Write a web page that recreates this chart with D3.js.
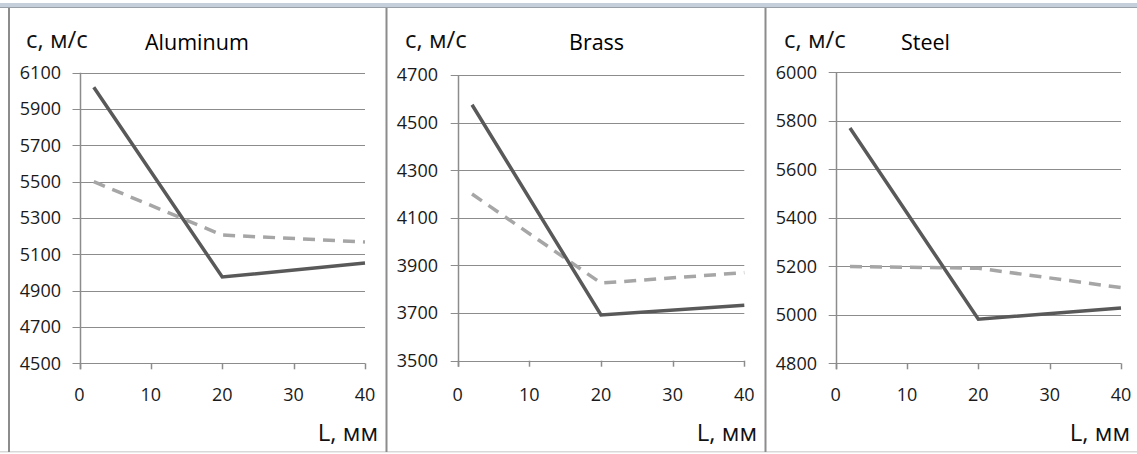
<!DOCTYPE html>
<html>
<head>
<meta charset="utf-8">
<script src="https://cdn.jsdelivr.net/npm/d3@7"></script>
<style>
  body { margin: 0; background: #fff; }
  svg { display: block; font-family: "Open Sans", sans-serif; }
</style>
</head>
<body>
<div id="chart"></div>
<script>
// ---- data ----
const xValues = [2, 20, 40];
const xTicks = [0, 10, 20, 30, 40];

const titles = ['Aluminum', 'Brass', 'Steel'];

const aluminumSolid  = [6020, 4975, 5052];
const aluminumDashed = [5500, 5206, 5168];
const brassSolid     = [4575, 3692, 3733];
const brassDashed    = [4200, 3826, 3870];
const steelSolid     = [5770, 4982, 5028];
const steelDashed    = [5199, 5192, 5112];

const aluminumTicks = [4500, 4700, 4900, 5100, 5300, 5500, 5700, 5900, 6100];
const brassTicks    = [3500, 3700, 3900, 4100, 4300, 4500, 4700];
const steelTicks    = [4800, 5000, 5200, 5400, 5600, 5800, 6000];

const yLabel = 'с, м/с';
const xLabel = 'L, мм';

// ---- layout ----
const W = 1137, H = 454;
const svg = d3.select('#chart').append('svg').attr('width', W).attr('height', H);

// frame
svg.append('rect').attr('x', 0).attr('y', 3).attr('width', W).attr('height', 4).attr('fill', '#c5cfdc');
svg.append('rect').attr('x', 0).attr('y', 7).attr('width', W).attr('height', 1).attr('fill', '#9aa0a8');
svg.append('rect').attr('x', 0).attr('y', 451).attr('width', W).attr('height', 1.5).attr('fill', '#d9d9d9');
[8, 385.5, 764.5].forEach(x => {
  svg.append('rect').attr('x', x).attr('y', 8).attr('width', 2).attr('height', 444).attr('fill', '#8c8c8c');
});

const panels = [
  { title: titles[0], solid: aluminumSolid, dashed: aluminumDashed, ticks: aluminumTicks,
    left: 79.5, right: 365, top: 72.7, bottom: 363.3, labelX: 26, titleX: 145, tickRight: 61, xLabelRight: 378 },
  { title: titles[1], solid: brassSolid, dashed: brassDashed, ticks: brassTicks,
    left: 457.7, right: 744.3, top: 75, bottom: 360.7, labelX: 405, titleX: 569, tickRight: 438, xLabelRight: 757 },
  { title: titles[2], solid: steelSolid, dashed: steelDashed, ticks: steelTicks,
    left: 835.7, right: 1121, top: 72.3, bottom: 363.3, labelX: 784, titleX: 901, tickRight: 817, xLabelRight: 1130 }
];

panels.forEach(p => {
  const g = svg.append('g');
  const x = d3.scaleLinear().domain([0, 40]).range([p.left, p.right]);
  const y = d3.scaleLinear().domain(d3.extent(p.ticks)).range([p.bottom, p.top]);

  // grid lines
  g.selectAll('.grid').data(p.ticks).join('line')
    .attr('x1', p.left - 7).attr('x2', p.right)
    .attr('y1', d => Math.round(y(d)) + 0.5).attr('y2', d => Math.round(y(d)) + 0.5)
    .attr('stroke', '#8c8c8c').attr('stroke-width', 1);

  // y axis line
  g.append('line')
    .attr('x1', Math.round(p.left) + 0.5).attr('x2', Math.round(p.left) + 0.5)
    .attr('y1', p.top).attr('y2', p.bottom + 6)
    .attr('stroke', '#8c8c8c').attr('stroke-width', 1.5);

  // x axis ticks
  g.selectAll('.xt').data(xTicks).join('line')
    .attr('x1', d => Math.round(x(d)) + 0.5).attr('x2', d => Math.round(x(d)) + 0.5)
    .attr('y1', p.bottom).attr('y2', p.bottom + 6)
    .attr('stroke', '#8c8c8c').attr('stroke-width', 1.5);

  // y tick labels
  g.selectAll('.yl').data(p.ticks).join('text')
    .attr('x', p.tickRight).attr('y', d => y(d))
    .attr('dy', '0.35em').attr('text-anchor', 'end')
    .attr('font-size', 18).attr('fill', '#1a1a1a')
    .text(d => d);

  // x tick labels
  g.selectAll('.xl').data(xTicks).join('text')
    .attr('x', d => x(d)).attr('y', 395)
    .attr('dy', '0.35em').attr('text-anchor', 'middle')
    .attr('font-size', 18).attr('fill', '#1a1a1a')
    .text(d => d);

  const line = d3.line().x((d, i) => x(xValues[i])).y(d => y(d));

  g.append('path').datum(p.dashed)
    .attr('d', line).attr('fill', 'none')
    .attr('stroke', '#a6a6a6').attr('stroke-width', 3.5)
    .attr('stroke-dasharray', '12,8');

  g.append('path').datum(p.solid)
    .attr('d', line).attr('fill', 'none')
    .attr('stroke', '#595959').attr('stroke-width', 3.5);

  // labels
  g.append('text').attr('x', p.labelX).attr('y', 48)
    .attr('font-size', 24).attr('fill', '#111').text(yLabel);
  g.append('text').attr('x', p.titleX).attr('y', 50)
    .attr('font-size', 21.5).attr('fill', '#000').text(p.title);
  g.append('text').attr('x', p.xLabelRight).attr('y', 441)
    .attr('text-anchor', 'end')
    .attr('font-size', 24).attr('fill', '#111').text(xLabel);
});
</script>
</body>
</html>
